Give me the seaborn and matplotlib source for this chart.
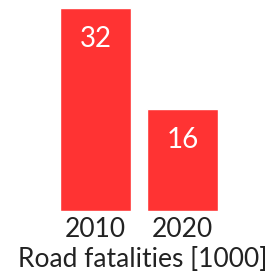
import matplotlib
matplotlib.use("Agg")
import matplotlib.pyplot as plt
import seaborn as sns
import pandas as pd

years = ["2010", "2020"]
fatalities = [32, 16]
xlabel = "Road fatalities [1000]"

sns.set_style("white")
plt.rcParams['font.family'] = ['Lato', 'DejaVu Sans']

df = pd.DataFrame({"year": years, "value": fatalities})

W, H = 277, 273
ax_l, ax_r, ax_b, ax_t = 60, 218, 210.7, 8
fig = plt.figure(figsize=(W / 100, H / 100), dpi=100)
ax = fig.add_axes([ax_l / W, (H - ax_b) / H, (ax_r - ax_l) / W, (ax_b - ax_t) / H])
sns.barplot(data=df, x="year", y="value", color="#FF3333", saturation=1,
            width=0.81, ax=ax)
ax.set_xlim(-0.405, 1.405)
ax.set_ylim(0, 32)
for c in ax.containers:
    for bar, v in zip(c, fatalities):
        ax.text(bar.get_x() + bar.get_width() / 2, bar.get_height() - 6.1, str(v),
                ha="center", va="baseline", color="white", fontsize=20)
ax.set_yticks([])
ax.set_ylabel("")
ax.tick_params(axis="x", length=0, labelsize=19, labelcolor="#222222", pad=26 * 0.72)
for lbl in ax.get_xticklabels():
    lbl.set_va("baseline")
ax.set_xlabel(xlabel, fontsize=19, color="#222222")
ax.xaxis.label.set_va("baseline")
ax.xaxis.set_label_coords(0.521, -56 / 202.7)
sns.despine(ax=ax, left=True, bottom=True)
fig.savefig("out.png", dpi=100)
